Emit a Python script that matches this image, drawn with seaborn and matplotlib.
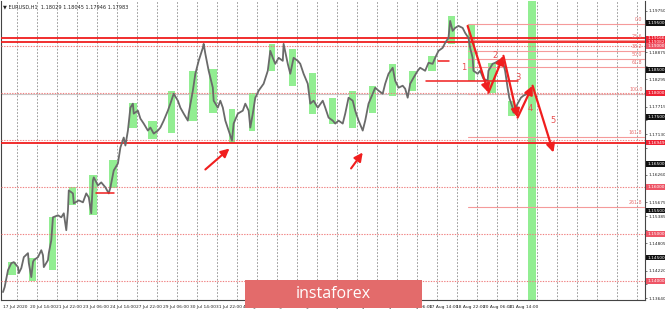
import matplotlib
matplotlib.use("Agg")
import matplotlib.pyplot as plt
import seaborn as sns
import pandas as pd
from matplotlib.patches import Rectangle

# ---------------- data ----------------
hours = [0, 2, 6, 10, 13, 18, 19, 22, 25, 30, 31, 34, 36, 37, 42, 46, 48, 49, 54, 55,
         58, 60, 66, 70, 73, 76, 78, 79, 84, 85, 91, 96, 100, 103, 106, 108, 109, 114, 118, 123,
         127, 129, 133, 138, 141, 145, 147, 150, 153, 156, 157, 162, 165, 169, 174, 177, 181, 186, 189, 193,
         198, 201, 205, 210, 213, 217, 222, 223, 228, 231, 235, 240, 241, 243, 247, 252, 253, 258, 261, 264,
         267, 271, 275, 277, 282, 288, 291, 295, 297, 300, 303, 307, 313, 318, 321, 324, 327, 331, 336, 337,
         342, 345, 349, 354, 357, 361, 366, 369, 373, 378, 384, 387, 391, 396, 399, 403, 408, 411, 415, 420,
         423, 427, 432, 435, 439, 444, 447, 451, 456, 459, 463, 468, 471, 475, 480, 483, 486, 489, 493, 498,
         501, 507, 511, 516, 519, 523, 528, 531, 535, 537, 540, 543, 547, 552, 555, 559, 561, 564, 565, 570,
         573, 577, 582, 583, 588, 591, 595, 600, 603, 606, 608, 612, 613, 618, 622, 625, 630]
close = [1.13767, 1.13873, 1.14234, 1.14382, 1.14404, 1.14298, 1.14170, 1.14277, 1.14510, 1.14595,
         1.14382, 1.14085, 1.14404, 1.14446, 1.14510, 1.14658, 1.14552, 1.14298, 1.14446, 1.14595,
         1.14870, 1.15358, 1.15401, 1.15358, 1.15443, 1.15083, 1.15507, 1.15931, 1.15867, 1.15655,
         1.15719, 1.15677, 1.15867, 1.15783, 1.15443, 1.16143, 1.16207, 1.16037, 1.16101, 1.15995,
         1.15867, 1.15995, 1.16355, 1.16504, 1.16843, 1.17056, 1.16886, 1.17202, 1.17692, 1.17777,
         1.17565, 1.17628, 1.17459, 1.17353, 1.17204, 1.17268, 1.17140, 1.17204, 1.17268, 1.17416,
         1.17628, 1.17777, 1.17989, 1.17840, 1.17692, 1.17565, 1.17416, 1.17565, 1.18053, 1.18413,
         1.18689, 1.18965, 1.19050, 1.18838, 1.18477, 1.18116, 1.17840, 1.17692, 1.17840, 1.17692,
         1.17416, 1.17204, 1.16992, 1.17353, 1.17565, 1.17628, 1.17777, 1.17628, 1.17268, 1.17565,
         1.17904, 1.18053, 1.18201, 1.18477, 1.18901, 1.18753, 1.18625, 1.18753, 1.18689, 1.19050,
         1.18625, 1.18413, 1.18753, 1.18689, 1.18625, 1.18413, 1.18201, 1.17777, 1.17840, 1.17692,
         1.17840, 1.17692, 1.17480, 1.17416, 1.17353, 1.17416, 1.17353, 1.17565, 1.17904, 1.17840,
         1.17628, 1.17416, 1.17204, 1.17416, 1.17777, 1.17989, 1.18116, 1.18053, 1.17989, 1.18201,
         1.18413, 1.18541, 1.18265, 1.18116, 1.18159, 1.18095, 1.17904, 1.18201, 1.18328, 1.18477,
         1.18541, 1.18477, 1.18647, 1.18625, 1.18753, 1.18901, 1.18965, 1.19071, 1.19177, 1.19538,
         1.19326, 1.19389, 1.19432, 1.19389, 1.19283, 1.19177, 1.18965, 1.18753, 1.18477, 1.18413,
         1.18477, 1.18307, 1.18265, 1.18477, 1.18625, 1.18647, 1.18689, 1.18689, 1.18477, 1.18116,
         1.17904, 1.17692, 1.17586, 1.17777, 1.17904, 1.17947, 1.17989]

# green highlight zones: start hour, end hour, high, low
zone_start = [6, 31, 55, 79, 103, 127, 151, 174, 198, 223, 247, 271, 295, 319, 343, 367, 391, 415,
              439, 463, 487, 511, 534, 559, 583, 607]
zone_end = [16, 40, 64, 88, 113, 137, 161, 185, 207, 233, 257, 279, 303, 327, 352, 376, 400, 424,
            448, 472, 496, 520, 543, 567, 592, 615]
zone_high = [1.14404, 1.14489, 1.15358, 1.15995, 1.16249, 1.16568, 1.17798, 1.17416, 1.18053, 1.18477,
             1.18519, 1.17671, 1.18010, 1.19050, 1.18944, 1.18435, 1.17904, 1.18053, 1.18159, 1.18625,
             1.18477, 1.18795, 1.19644, 1.19474, 1.18647, 1.17840]
zone_low = [1.14128, 1.14001, 1.14234, 1.15613, 1.15401, 1.15974, 1.17268, 1.17034, 1.17162, 1.17416,
            1.17586, 1.16949, 1.17204, 1.18477, 1.18159, 1.17565, 1.17353, 1.17268, 1.17586, 1.17947,
            1.18053, 1.18477, 1.19050, 1.18265, 1.18010, 1.17522]
band_start, band_end = 631, 640

# horizontal levels
solid_levels = [1.19166, 1.19082, 1.16949]
dotted_levels = [1.19000, 1.18000, 1.17000, 1.16000, 1.15000, 1.14000]
bid_price = 1.17983

# Fibonacci
fib_ratios = [0.0, 23.6, 38.2, 50.0, 61.8, 100.0, 161.8, 261.8]
fib_zero, fib_hundred = 1.19474, 1.17989
fib_start = 558

# wave zigzag
wave_h = [558, 583, 601, 618, 636, 661]
wave_p = [1.19432, 1.18010, 1.18795, 1.17480, 1.18159, 1.16737]
wave_labels = ["1", "2", "3", "4", "5"]
wave_label_h = [553, 591, 619, 633, 661]
wave_label_p = [1.18541, 1.18795, 1.18328, 1.17671, 1.17416]

# short red segments: start, end, price
seg_start = [522, 508, 112]
seg_end = [536, 618, 133]
seg_price = [1.18689, 1.18265, 1.15867]

# arrows (tail -> head)
arrow_h0 = [243, 418]
arrow_p0 = [1.16376, 1.16398]
arrow_h1 = [272, 432]
arrow_p1 = [1.16822, 1.16737]

# axis
x_tick_hours = [32 * k for k in range(20)]
x_tick_labels = ["17 Jul 2020", "20 Jul 14:00", "21 Jul 22:00", "23 Jul 06:00", "24 Jul 14:00",
                 "27 Jul 22:00", "29 Jul 06:00", "30 Jul 14:00", "31 Jul 22:00", "4 Aug 06:00",
                 "5 Aug 14:00", "6 Aug 22:00", "10 Aug 06:00", "11 Aug 14:00", "12 Aug 22:00",
                 "14 Aug 06:00", "17 Aug 14:00", "18 Aug 22:00", "20 Aug 06:00", "21 Aug 14:00"]
y_ticks = [1.19750, 1.19460, 1.19165, 1.18875, 1.18585, 1.18295, 1.18005, 1.17715, 1.17420, 1.17130,
           1.16840, 1.16550, 1.16260, 1.15970, 1.15675, 1.15385, 1.15095, 1.14805, 1.14515, 1.14220,
           1.13930, 1.13640]
black_boxes = [1.19500, 1.18500, 1.17500, 1.16500, 1.15500, 1.14500]
red_boxes = [1.19166, 1.19082, 1.16949, 1.18000]
pink_boxes = [1.19000, 1.16000, 1.15000, 1.14000]

# ---------------- plot ----------------
sns.set_style("white")
plt.rcParams['font.family'] = ['DejaVu Sans']

fig = plt.figure(figsize=(6.65, 3.10), dpi=100)
ax = fig.add_axes([0.0015, 10 / 310, 644 / 665, 299 / 310])
ax.set_xlim(-2.4, 771)
ax.set_ylim(1.13598, 1.19962)

# vertical grid (daily)
for h in range(17, 771, 24):
    ax.axvline(h, color="#8a8a8a", lw=0.6, ls=(0, (2, 2)), zorder=1)

# green zones
for s, e, hi, lo in zip(zone_start, zone_end, zone_high, zone_low):
    ax.add_patch(Rectangle((s, lo), e - s, hi - lo, facecolor="#92ee92", edgecolor="none", zorder=2))
ax.axvspan(band_start, band_end, color="#92ee92", lw=0, zorder=2)

# levels
ax.axhline(bid_price, color="#c8c8c8", lw=0.8, zorder=1.5)
for lv in dotted_levels:
    ax.axhline(lv, color="#f08080", lw=0.8, ls=(0, (1.2, 1.2)), zorder=3)
for lv in solid_levels:
    ax.axhline(lv, color="#f01e1e", lw=1.3, zorder=3)

# fibonacci
fib_prices = [fib_zero - r / 100 * (fib_zero - fib_hundred) for r in fib_ratios]
for r, p in zip(fib_ratios, fib_prices):
    ls = (0, (1.2, 1.2)) if r == 100.0 else "-"
    ax.plot([fib_start, 771], [p, p], color="#f59a9a", lw=0.8, ls=ls, zorder=3)
    ax.text(768, p + 0.0004, f"{r:.1f}", color="#e87070", fontsize=3.4, ha="right", va="bottom", zorder=6)

# price line
df = pd.DataFrame({"hour": hours, "close": close})
sns.lineplot(data=df, x="hour", y="close", ax=ax, color="#6a6a6a", lw=1.3, estimator=None, sort=False,
             zorder=4)

# short segments
for s, e, p in zip(seg_start, seg_end, seg_price):
    ax.plot([s, e], [p, p], color="#f01e1e", lw=1.1, zorder=5)

# wave zigzag
for i in range(len(wave_h) - 1):
    ax.annotate("", xy=(wave_h[i + 1], wave_p[i + 1]), xytext=(wave_h[i], wave_p[i]),
                arrowprops=dict(arrowstyle="-|>,head_length=0.5,head_width=0.25", color="#f01e1e",
                                lw=1.6, shrinkA=0, shrinkB=0), zorder=6)
for t, h, p in zip(wave_labels, wave_label_h, wave_label_p):
    ax.text(h, p, t, color="#e85050", fontsize=6, ha="center", va="center", zorder=6)

# arrows
for h0, p0, h1, p1 in zip(arrow_h0, arrow_p0, arrow_h1, arrow_p1):
    ax.annotate("", xy=(h1, p1), xytext=(h0, p0),
                arrowprops=dict(arrowstyle="-|>,head_length=0.5,head_width=0.25", color="#f01e1e",
                                lw=1.5, shrinkA=0, shrinkB=0), zorder=6)

# axes styling
ax.spines["top"].set_visible(False)
for side in ["left", "right", "bottom"]:
    ax.spines[side].set_color("#444444")
    ax.spines[side].set_linewidth(0.8)
ax.yaxis.tick_right()
all_boxes = black_boxes + red_boxes + pink_boxes
ax.set_yticks(y_ticks)
ax.set_yticklabels(["" if min(abs(v - b) for b in all_boxes) < 0.0011 else f"{v:.5f}" for v in y_ticks])
ax.set_xticks(x_tick_hours)
ax.set_xticklabels(x_tick_labels)
plt.setp(ax.get_xticklabels(), ha="left")
ax.tick_params(axis="x", labelsize=3.2, length=2, width=0.5, color="#444444", pad=1.5,
               labelcolor="#222222")
ax.tick_params(axis="y", labelsize=3.1, length=1.5, width=0.5, color="#444444", pad=1,
               labelcolor="#222222", left=False, right=True)
ax.set_xlabel("")
ax.set_ylabel("")

# price boxes at right
ytr = ax.get_yaxis_transform()
def box(price, fc):
    ax.text(1.0035, price, f"{price:.5f}", transform=ytr, fontsize=3.1, color="white", ha="left",
            va="center", clip_on=False, zorder=10,
            bbox=dict(boxstyle="square,pad=0.2", fc=fc, ec="none"))
for p in black_boxes:
    box(p, "#111111")
for p in red_boxes:
    box(p, "#ee2233")
for p in pink_boxes:
    box(p, "#ee5566")

# header text
fig.text(3 / 665, 1 - 7 / 310, "\u25bc EURUSD,H1  1.18029 1.18045 1.17946 1.17983", fontsize=3.6,
         color="#222222", va="center", ha="left")

# instaforex banner
fig.patches.append(Rectangle((245 / 665, 2 / 310), 177 / 665, 28 / 310, transform=fig.transFigure,
                             facecolor="#e36b6b", edgecolor="none", zorder=20))
fig.text((245 + 88.5) / 665, 16 / 310, "instaforex", fontsize=11.5, color="white", ha="center",
         va="center", family=["Open Sans", "DejaVu Sans"], zorder=21)

fig.savefig("out.png", dpi=100)
